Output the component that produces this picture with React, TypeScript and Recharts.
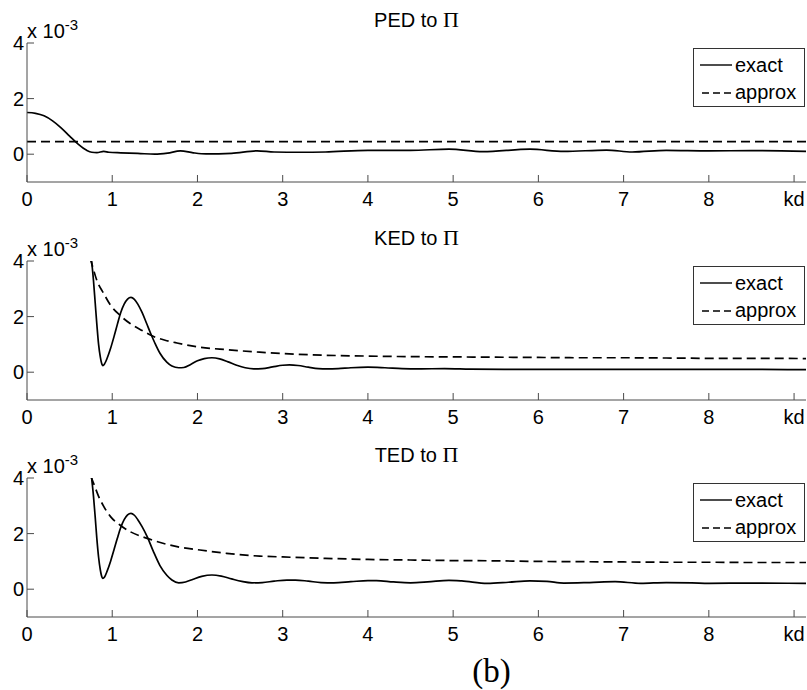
import React from 'react';
import { LineChart, Line, XAxis, YAxis } from 'recharts';

// ---------- axes / labels ----------
const X_TICKS = [0, 1, 2, 3, 4, 5, 6, 7, 8, 9];
const X_TICK_LABELS = ['0', '1', '2', '3', '4', '5', '6', '7', '8', 'kd'];
const Y_TICKS = [0, 2, 4];
const X_DOMAIN: [number, number] = [0, 9.14];
const Y_DOMAIN: [number, number] = [-1, 4];
const PANEL_NAMES = ['PED', 'KED', 'TED'];
const LEGEND_LABELS = ['exact', 'approx'];
const FIG_LABEL = '(b)';

// ---------- data (values in units of 1e-3) ----------
const pedExactK = [0, 0.1, 0.2, 0.3, 0.4, 0.5, 0.6, 0.7, 0.76, 0.82, 0.9, 0.96, 1.1, 1.3, 1.5, 1.65, 1.8, 1.95, 2.1, 2.4, 2.7, 2.9, 3.2, 3.5, 4.0, 4.5, 4.95, 5.35, 5.9, 6.3, 6.8, 7.1, 7.5, 8.0, 8.5, 9.14];
const pedExactY = [1.5, 1.47, 1.38, 1.2, 0.95, 0.65, 0.36, 0.14, 0.07, 0.06, 0.1, 0.07, 0.05, 0.03, 0.0, 0.04, 0.12, 0.05, 0.01, 0.03, 0.12, 0.08, 0.07, 0.08, 0.14, 0.14, 0.18, 0.09, 0.18, 0.1, 0.15, 0.08, 0.14, 0.12, 0.13, 0.1];
const pedApproxK = [0, 9.14];
const pedApproxY = [0.45, 0.45];

const kedExactK = [0.74, 0.76, 0.78, 0.8, 0.82, 0.84, 0.86, 0.88, 0.89, 0.91, 0.94, 0.98, 1.02, 1.06, 1.1, 1.14, 1.18, 1.22, 1.26, 1.3, 1.35, 1.4, 1.45, 1.5, 1.56, 1.64, 1.7, 1.78, 1.84, 1.92, 2.0, 2.08, 2.17, 2.26, 2.36, 2.46, 2.56, 2.66, 2.76, 2.88, 3.0, 3.08, 3.18, 3.3, 3.42, 3.52, 3.65, 3.8, 4.0, 4.2, 4.4, 4.6, 4.9, 5.2, 5.6, 6.0, 6.5, 7.0, 7.5, 8.0, 8.5, 9.14];
const kedExactY = [4.6, 3.95, 3.3, 2.5, 1.7, 1.0, 0.55, 0.28, 0.24, 0.3, 0.5, 0.85, 1.27, 1.72, 2.15, 2.45, 2.63, 2.69, 2.62, 2.45, 2.15, 1.78, 1.4, 1.05, 0.68, 0.36, 0.22, 0.16, 0.17, 0.28, 0.41, 0.49, 0.52, 0.48, 0.37, 0.25, 0.16, 0.12, 0.13, 0.19, 0.25, 0.26, 0.24, 0.18, 0.13, 0.12, 0.13, 0.16, 0.18, 0.16, 0.13, 0.12, 0.13, 0.11, 0.1, 0.1, 0.1, 0.1, 0.1, 0.1, 0.1, 0.09];
const kedApproxK = [0.74, 0.76, 0.82, 0.9, 0.98, 1.09, 1.21, 1.35, 1.48, 1.62, 1.76, 2.03, 2.34, 2.73, 3.0, 3.5, 4.0, 4.5, 5.0, 5.5, 6.0, 6.5, 7.0, 7.5, 8.0, 8.5, 9.14];
const kedApproxY = [4.1, 3.9, 3.3, 2.83, 2.41, 2.05, 1.75, 1.5, 1.29, 1.15, 1.05, 0.9, 0.81, 0.72, 0.67, 0.61, 0.58, 0.56, 0.55, 0.54, 0.53, 0.52, 0.52, 0.51, 0.5, 0.5, 0.49];

const tedExactK = [0.74, 0.76, 0.78, 0.8, 0.82, 0.84, 0.86, 0.88, 0.89, 0.91, 0.94, 0.98, 1.02, 1.06, 1.1, 1.14, 1.18, 1.22, 1.26, 1.3, 1.35, 1.41, 1.48, 1.56, 1.64, 1.7, 1.78, 1.86, 1.95, 2.05, 2.17, 2.28, 2.4, 2.52, 2.64, 2.76, 2.9, 3.05, 3.15, 3.3, 3.45, 3.6, 3.8, 4.0, 4.1, 4.3, 4.5, 4.7, 4.95, 5.1, 5.4, 5.65, 5.9, 6.1, 6.3, 6.6, 6.9, 7.2, 7.5, 7.8, 8.0, 8.5, 9.14];
const tedExactY = [4.6, 3.96, 3.35, 2.6, 1.8, 1.15, 0.7, 0.43, 0.39, 0.44, 0.65, 1.0, 1.41, 1.83, 2.22, 2.5, 2.67, 2.73, 2.66, 2.5, 2.25, 1.89, 1.38, 0.85, 0.5, 0.33, 0.23, 0.26, 0.36, 0.46, 0.51, 0.47, 0.37, 0.28, 0.23, 0.24, 0.29, 0.33, 0.33, 0.29, 0.24, 0.23, 0.27, 0.31, 0.31, 0.26, 0.23, 0.26, 0.32, 0.3, 0.21, 0.25, 0.3, 0.28, 0.22, 0.24, 0.27, 0.21, 0.24, 0.23, 0.21, 0.22, 0.21];
const tedApproxK = [0.75, 0.78, 0.84, 0.9, 0.98, 1.09, 1.21, 1.41, 1.76, 2.03, 2.34, 2.73, 3.0, 3.5, 4.0, 4.5, 5.0, 5.5, 6.0, 6.5, 7.0, 7.5, 8.0, 8.5, 9.14];
const tedApproxY = [4.05, 3.82, 3.34, 2.98, 2.61, 2.31, 2.07, 1.83, 1.53, 1.41, 1.29, 1.19, 1.16, 1.11, 1.07, 1.05, 1.03, 1.02, 1.0, 0.99, 0.98, 0.97, 0.97, 0.96, 0.96];

type Pt = { k: number; y: number };
const toPts = (ks: number[], ys: number[]): Pt[] => ks.map((k, i) => ({ k, y: ys[i] }));

// ---------- layout / style ----------
const W = 807;
const H = 690;
const PLOT_L = 27;
const PLOT_R = 806;
const PLOT_H = 139;
const M_TOP = 14;
const XAX_H = 34;
const TICK_LEN = 7;
const PANEL_TOPS = [43, 261, 478];
const AXIS = '#4a4a4a';
const FONT = '"Liberation Sans", Arial, Helvetica, sans-serif';
const SERIF = '"Liberation Serif", "DejaVu Serif", "Times New Roman", serif';
const FS = 20;

const BottomTick = (props: any) => {
  const { x, y, payload } = props;
  const idx = X_TICKS.indexOf(payload.value);
  return (
    <g>
      <line x1={x} x2={x} y1={y} y2={y - TICK_LEN} stroke={AXIS} />
      <text x={x} y={y + 24} textAnchor="middle" fontSize={FS} fontFamily={FONT} fill="#000">
        {idx >= 0 ? X_TICK_LABELS[idx] : ''}
      </text>
    </g>
  );
};
const TopTick = (props: any) => {
  const { x, y } = props;
  return <line x1={x} x2={x} y1={y} y2={y + TICK_LEN} stroke={AXIS} />;
};
const LeftTick = (props: any) => {
  const { x, y, payload } = props;
  return (
    <g>
      <line x1={x} x2={x + TICK_LEN} y1={y} y2={y} stroke={AXIS} />
      <text x={x - 3} y={y + 7} textAnchor="end" fontSize={FS} fontFamily={FONT} fill="#000">
        {String(payload.value)}
      </text>
    </g>
  );
};
const RightTick = (props: any) => {
  const { x, y } = props;
  return <line x1={x} x2={x - TICK_LEN} y1={y} y2={y} stroke={AXIS} />;
};

function Panel({ plotTop, exact, approx }: { plotTop: number; exact: Pt[]; approx: Pt[] }) {
  return (
    <div style={{ position: 'absolute', left: 0, top: plotTop - M_TOP }}>
      <LineChart
        width={W}
        height={M_TOP + PLOT_H + XAX_H}
        margin={{ top: M_TOP, right: W - PLOT_R, bottom: 0, left: 0 }}
      >
        <XAxis xAxisId="b" dataKey="k" type="number" domain={X_DOMAIN} allowDataOverflow ticks={X_TICKS}
          interval={0} height={XAX_H} tickSize={0} tickMargin={0} tickLine={false}
          axisLine={{ stroke: AXIS }} tick={(p: any) => <BottomTick {...p} />} />
        <XAxis xAxisId="t" orientation="top" dataKey="k" type="number" domain={X_DOMAIN} allowDataOverflow ticks={X_TICKS}
          interval={0} height={0} tickSize={0} tickMargin={0} tickLine={false}
          axisLine={{ stroke: AXIS }} tick={(p: any) => <TopTick {...p} />} />
        <YAxis yAxisId="l" type="number" domain={Y_DOMAIN} allowDataOverflow ticks={Y_TICKS}
          interval={0} width={PLOT_L} tickSize={0} tickMargin={0} tickLine={false}
          axisLine={{ stroke: AXIS }} tick={(p: any) => <LeftTick {...p} />} />
        <YAxis yAxisId="r" orientation="right" type="number" domain={Y_DOMAIN} allowDataOverflow ticks={Y_TICKS}
          interval={0} width={0} tickSize={0} tickMargin={0} tickLine={false}
          axisLine={{ stroke: AXIS }} tick={(p: any) => <RightTick {...p} />} />
        <Line xAxisId="b" yAxisId="l" data={exact} dataKey="y" type="monotone" stroke="#000"
          strokeWidth={1.7} dot={false} activeDot={false} isAnimationActive={false} />
        <Line xAxisId="b" yAxisId="l" data={approx} dataKey="y" type="monotone" stroke="#000"
          strokeWidth={1.7} strokeDasharray="9 5" dot={false} activeDot={false} isAnimationActive={false} />
      </LineChart>
    </div>
  );
}

const PANELS = [
  { exact: toPts(pedExactK, pedExactY), approx: toPts(pedApproxK, pedApproxY) },
  { exact: toPts(kedExactK, kedExactY), approx: toPts(kedApproxK, kedApproxY) },
  { exact: toPts(tedExactK, tedExactY), approx: toPts(tedApproxK, tedApproxY) },
];

export default function App() {
  const cx = (PLOT_L + PLOT_R) / 2;
  return (
    <div style={{ position: 'absolute', left: 0, top: 0, width: W, height: H, background: '#fff', overflow: 'hidden' }}>
      {PANELS.map((p, i) => (
        <Panel key={i} plotTop={PANEL_TOPS[i]} exact={p.exact} approx={p.approx} />
      ))}
      <svg width={W} height={H} style={{ position: 'absolute', left: 0, top: 0, pointerEvents: 'none' }}>
        {PANEL_TOPS.map((t, i) => (
          <g key={i}>
            <text x={cx} y={t - 16.5} textAnchor="middle" fontSize={FS} fontFamily={FONT} fill="#000">
              {`${PANEL_NAMES[i]} to `}
              <tspan fontFamily={SERIF} fontSize={22}>Π</tspan>
            </text>
            <text x={PLOT_L} y={t - 5.5} fontSize={FS} fontFamily={FONT} fill="#000">
              x 10<tspan dy={-8} fontSize={15}>-3</tspan>
            </text>
            <rect x={693.5} y={t + 5.5} width={111} height={58} fill="#fff" stroke="#333" strokeWidth={1} />
            <line x1={700} x2={732} y1={t + 22} y2={t + 22} stroke="#000" strokeWidth={1.4} />
            <text x={735} y={t + 28.5} fontSize={FS} fontFamily={FONT} fill="#000">{LEGEND_LABELS[0]}</text>
            <line x1={702} x2={732} y1={t + 50} y2={t + 50} stroke="#000" strokeWidth={1.4} strokeDasharray="7 4" />
            <text x={735} y={t + 55.5} fontSize={FS} fontFamily={FONT} fill="#000">{LEGEND_LABELS[1]}</text>
          </g>
        ))}
        <text x={491.5} y={682} textAnchor="middle" fontSize={33} fontFamily={SERIF} fill="#000">{FIG_LABEL}</text>
      </svg>
    </div>
  );
}
